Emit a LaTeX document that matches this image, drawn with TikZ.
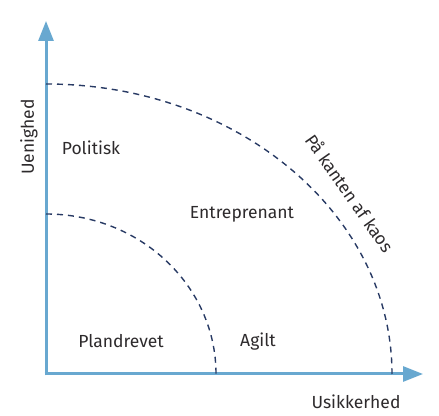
\documentclass[tikz,border=0pt]{standalone}
\usepackage{fontspec}
\setmainfont{Fira Sans}
\usetikzlibrary{arrows.meta}
\definecolor{axisblue}{RGB}{104,168,208}
\definecolor{arcnavy}{RGB}{40,58,100}
\definecolor{labelgray}{RGB}{45,42,44}
\begin{document}
\begin{tikzpicture}[x=1pt,y=1pt,
  axis/.style={draw=axisblue,line width=3pt,-{Triangle[length=20pt,width=15pt]}},
  boundary/.style={draw=arcnavy,line width=1.4pt,dash pattern=on 6pt off 5pt},
  zone/.style={text=labelgray,font=\fontsize{17.5}{20}\selectfont,inner sep=0pt}]
  \useasboundingbox (0,0) rectangle (439,415);
  % axes
  \coordinate (O) at (46,41);
  \coordinate (ytip) at (46,394);
  \coordinate (xtip) at (423,41);
  \draw[axis] ([yshift=-1.5pt]O) -- (ytip);
  \draw[axis] ([xshift=-1.5pt]O) -- (xtip);
  % zone boundaries
  \draw[boundary] (46,201) arc[start angle=90,end angle=0,x radius=170,y radius=160];
  \draw[boundary] (46,331) arc[start angle=90,end angle=0,x radius=346,y radius=290];
  % labels
  \node[zone,rotate=90] (uenighed) at (29,278) {Uenighed};
  \node[zone] (usikkerhed) at (356,13) {Usikkerhed};
  \node[zone] (politisk) at (91,267) {Politisk};
  \node[zone] (entreprenant) at (242,201) {Entreprenant};
  \node[zone] (plandrevet) at (121,74) {Plandrevet};
  \node[zone] (agilt) at (258,73) {Agilt};
  \node[zone,rotate=-55] (kaos) at (350,222) {På kanten af kaos};
\end{tikzpicture}
\end{document}
